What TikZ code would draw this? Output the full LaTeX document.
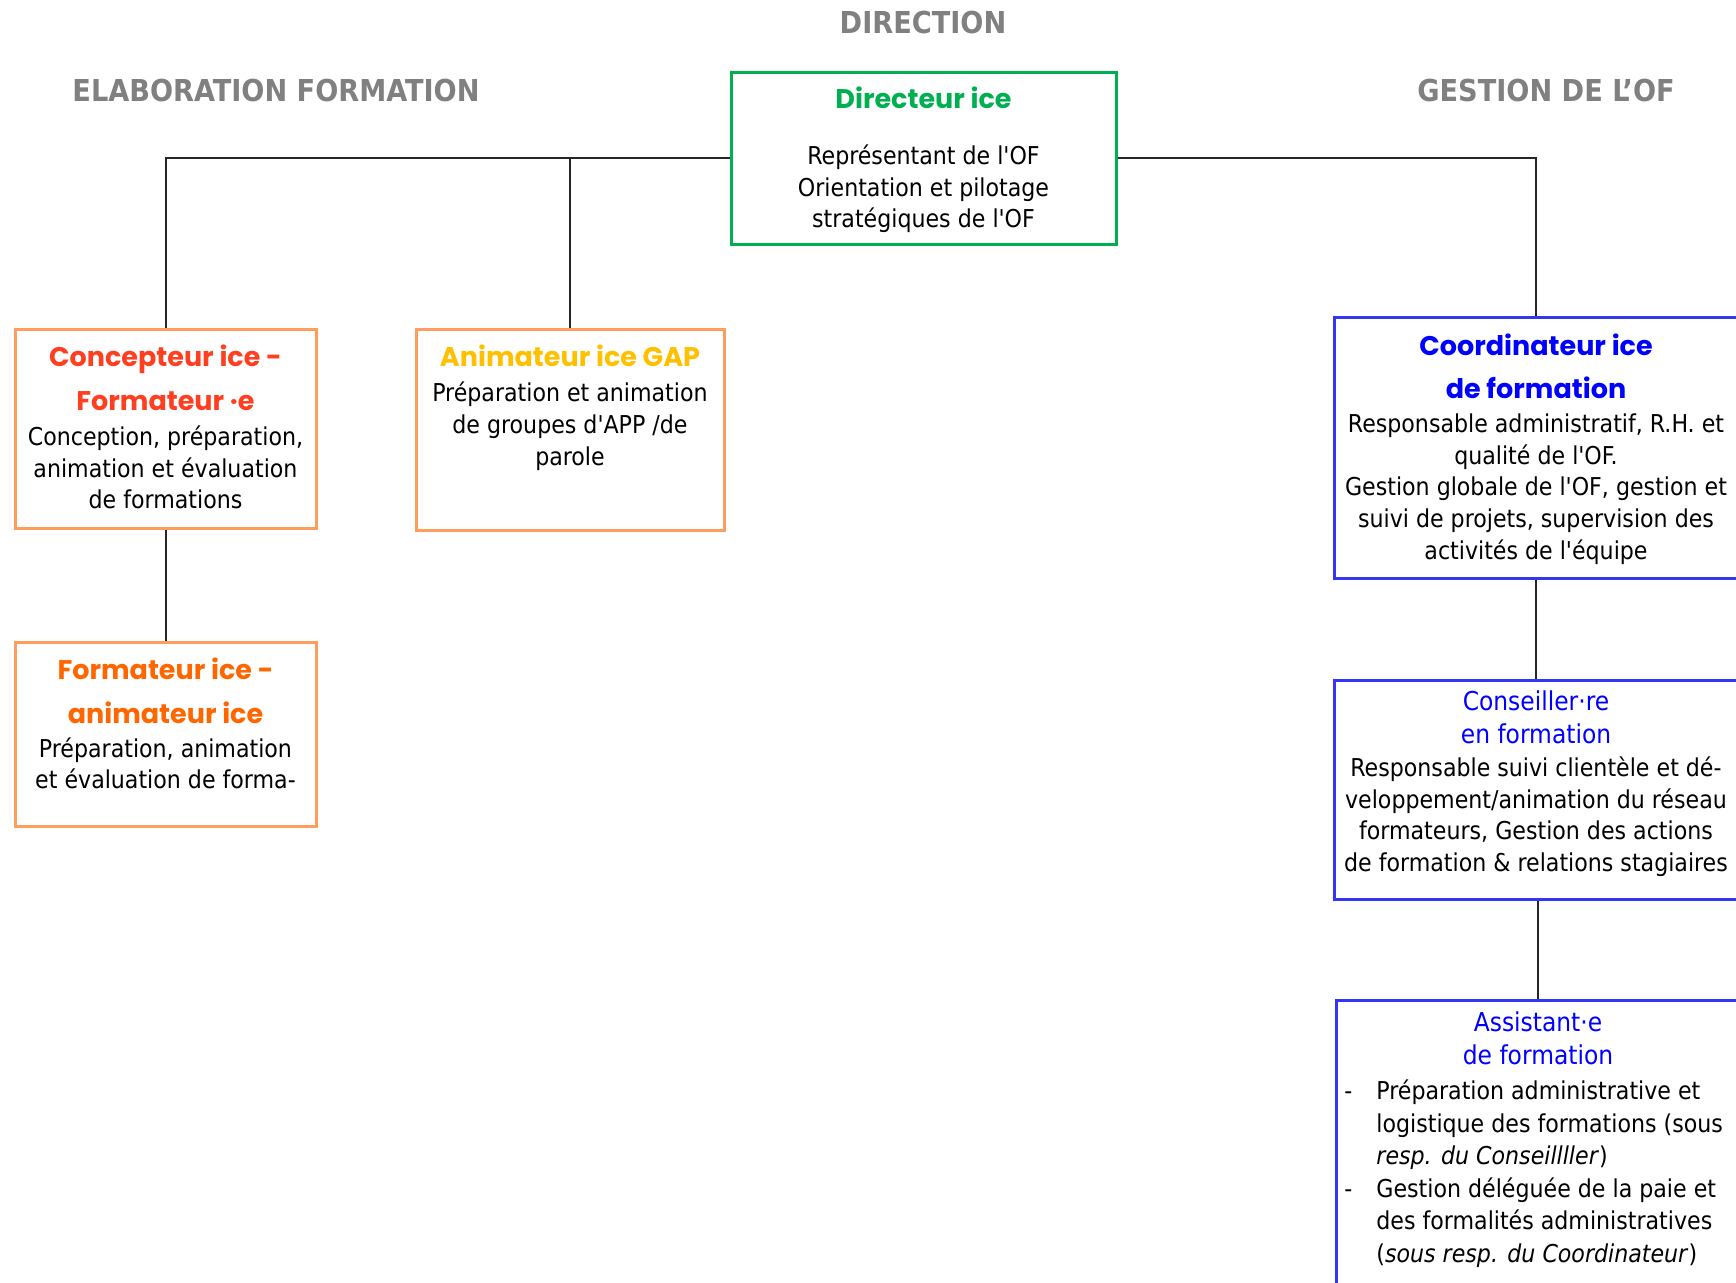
\documentclass[tikz,border=0pt]{standalone}
\usepackage{fontspec}
\newfontfamily\bodyfont{DejaVu Sans Condensed}
\newfontfamily\titlefont{Poppins}
\definecolor{dirgreen}{HTML}{00B050}
\definecolor{concred}{HTML}{FF3F1F}
\definecolor{formorange}{HTML}{FF6600}
\definecolor{animyellow}{HTML}{FFC000}
\definecolor{boxorange}{HTML}{FF9D5C}
\definecolor{txtblue}{HTML}{0000FF}
\definecolor{boxblue}{HTML}{3535F5}
\definecolor{headgray}{HTML}{808080}
\newcommand\topstrut{\rule{0pt}{20pt}}
\tikzset{
  box/.style={draw, line width=1.5pt, rectangle, inner sep=0pt},
  link/.style={draw=black!85, line width=1pt},
  head/.style={anchor=base, inner sep=0pt, text=headgray, font=\bodyfont\bfseries\fontsize{15.1}{18}\selectfont},
  ttl/.style={anchor=north, inner sep=0pt, align=center, font=\titlefont\bfseries\fontsize{13.5}{22}\selectfont},
  bodytxt/.style={anchor=north, inner sep=0pt, align=center, font=\bodyfont\fontsize{12.3}{15.85}\selectfont},
}
\begin{document}
\begin{tikzpicture}[x=0.5pt,y=-0.5pt]
\useasboundingbox (0,0) rectangle (1736,1282);
\clip (0,0) rectangle (1736,1282);

% headings
\node[head] (hdir) at (923,33) {DIRECTION};
\node[head] (helab) at (276,101) {ELABORATION FORMATION};
\node[head] (hgest) at (1546,101) {GESTION DE L’OF};

% boxes
\node[box, draw=dirgreen, minimum width=192.5pt, minimum height=86pt] (dir) at (923.5,158) {};
\node[box, draw=boxorange, minimum width=150.5pt, minimum height=99.5pt] (conc) at (165.5,428.5) {};
\node[box, draw=boxorange, minimum width=154pt, minimum height=100.5pt] (anim) at (570,429.5) {};
\node[box, draw=boxorange, minimum width=150.5pt, minimum height=92pt] (form) at (165.5,734) {};
\node[box, draw=boxblue, minimum width=202pt, minimum height=130.5pt] (coord) at (1536,447.5) {};
\node[box, draw=boxblue, minimum width=202pt, minimum height=109.5pt] (cons) at (1536,789.5) {};
\node[box, draw=boxblue, minimum width=202pt, minimum height=160pt] (asst) at (1538,1160) {};

% connectors
\draw[link] (dir.west) -| (conc.north);
\draw[link] (anim.north) -- (anim.north |- dir.west);
\draw[link] (dir.east) -| (coord.north);
\draw[link] (conc.south) -- (form.north);
\draw[link] (coord.south) -- (cons.north);
\draw[link] (asst.north) -- (asst.north |- cons.south);

% Directeur
\node[ttl, text=dirgreen] (dirT) at (923.5,68.5) {\topstrut Directeur ice};
\node[bodytxt] (dirB) at (923.5,124) {\topstrut Représentant de l'OF\\Orientation et pilotage\\stratégiques de l'OF};

% Concepteur
\node[ttl, text=concred] (concT) at (165.5,326.5) {\topstrut Concepteur ice -\\Formateur ·e};
\node[bodytxt, font=\bodyfont\fontsize{12.3}{15.8}\selectfont] (concB) at (165.5,405) {\topstrut Conception, préparation,\\animation et évaluation\\de formations};

% Animateur
\node[ttl, text=animyellow] (animT) at (570,326) {\topstrut Animateur ice GAP};
\node[bodytxt, font=\bodyfont\fontsize{12.3}{16}\selectfont] (animB) at (570,361) {\topstrut Préparation et animation\\de groupes d'APP /de\\parole};

% Formateur
\node[ttl, text=formorange] (formT) at (165.5,639) {\topstrut Formateur ice -\\animateur ice};
\node[bodytxt, font=\bodyfont\fontsize{12.3}{15.6}\selectfont] (formB) at (165.5,717) {\topstrut Préparation, animation\\et évaluation de forma-};

% Coordinateur
\node[ttl, text=txtblue, font=\titlefont\bfseries\fontsize{13.5}{21.5}\selectfont] (coordT) at (1536,315.5) {\topstrut Coordinateur ice\\de formation};
\node[bodytxt] (coordB) at (1536,392) {\topstrut Responsable administratif, R.H. et\\qualité de l'OF.\\Gestion globale de l'OF, gestion et\\suivi de projets, supervision des\\activités de l'équipe};

% Conseiller
\node[bodytxt, text=txtblue, font=\bodyfont\fontsize{13}{16.5}\selectfont] (consT) at (1536,670.5) {\topstrut Conseiller·re\\en formation};
\node[bodytxt] (consB) at (1536,736) {\topstrut Responsable suivi clientèle et dé-\\veloppement/animation du réseau\\formateurs, Gestion des actions\\de formation \& relations stagiaires};

% Assistant
\node[bodytxt, text=txtblue, font=\bodyfont\fontsize{13}{16.6}\selectfont] (asstT) at (1538,991) {\topstrut Assistant·e\\de formation};
\node[bodytxt, anchor=north west, align=left, font=\bodyfont\fontsize{12.3}{16.3}\selectfont] (asstB) at (1344,1059) {\topstrut\makebox[16pt][l]{-}Préparation administrative et\\\hspace*{16pt}logistique des formations (sous\\\hspace*{16pt}\textit{resp. du Conseillller})\\\makebox[16pt][l]{-}Gestion déléguée de la paie et\\\hspace*{16pt}des formalités administratives\\\hspace*{16pt}(\textit{sous resp. du Coordinateur})};
\end{tikzpicture}
\end{document}
